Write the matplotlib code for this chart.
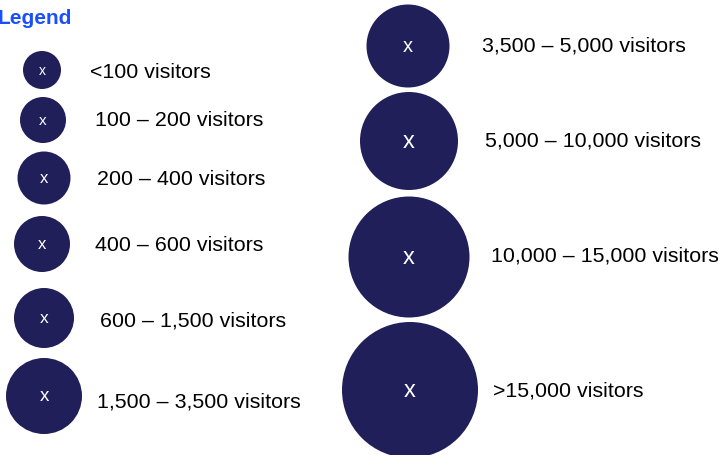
import matplotlib
matplotlib.use("Agg")
import matplotlib.pyplot as plt
from matplotlib.patches import Circle

plt.rcParams['font.family'] = ['Liberation Sans', 'DejaVu Sans']

labels = ["<100 visitors", "100 \u2013 200 visitors", "200 \u2013 400 visitors",
          "400 \u2013 600 visitors", "600 \u2013 1,500 visitors", "1,500 \u2013 3,500 visitors",
          "3,500 \u2013 5,000 visitors", "5,000 \u2013 10,000 visitors",
          "10,000 \u2013 15,000 visitors", ">15,000 visitors"]
radii = [19, 23, 26.5, 28, 30, 38, 41.5, 49, 60.5, 68]

# layout (pixels)
cx = [42, 43, 44, 42, 44, 44, 408, 409, 409, 410]
cy = [71, 121, 179, 245, 319, 397, 47, 142, 258, 391]
tx = [90, 95, 97, 95, 100, 97, 482, 485, 491, 493]
ty = [73, 121, 180, 246, 321, 402, 46, 141, 256, 391]
xsize = [10, 11, 12, 12, 12.5, 13.5, 14.5, 17, 17, 17]

W, H = 723, 456
fig = plt.figure(figsize=(W / 100, H / 100), dpi=100)
ax = fig.add_axes([0, 0, 1, 1])
ax.set_xlim(0, W)
ax.set_ylim(H, 0)
ax.set_aspect('equal')
ax.axis('off')

navy = '#201f5a'
for i, lab in enumerate(labels):
    ax.add_patch(Circle((cx[i], cy[i]), radii[i], facecolor=navy, edgecolor='none'))
    ax.text(cx[i], cy[i], 'x', color='white', fontsize=xsize[i], ha='center', va='center')
    ax.text(tx[i], ty[i], lab, color='black', fontsize=15.4, ha='left', va='center')

ax.text(-2, 18, 'Legend', color='#1a4fff', fontsize=15, fontweight='bold', ha='left', va='center')

fig.savefig('out.png', dpi=100)
